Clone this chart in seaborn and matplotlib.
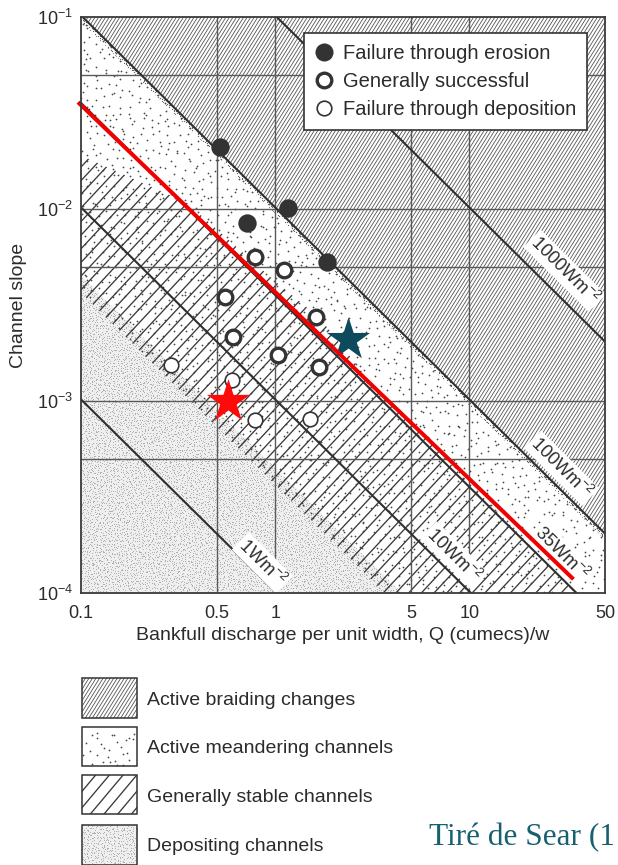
import numpy as np
import pandas as pd
import matplotlib
matplotlib.use("Agg")
import matplotlib.pyplot as plt
import matplotlib.transforms as mtransforms
from matplotlib.collections import LineCollection
from matplotlib.patches import Polygon, Rectangle
from matplotlib.lines import Line2D
from matplotlib.ticker import NullLocator
import seaborn as sns

# ---------------------------------------------------------------- data
erosion_q = [0.52, 0.72, 1.17, 1.84]
erosion_s = [0.021, 0.0085, 0.0101, 0.0053]
success_q = [0.79, 1.11, 0.55, 0.61, 1.04, 1.62, 1.68]
success_s = [0.0056, 0.0048, 0.0035, 0.00215, 0.00174, 0.00274, 0.0015]
deposition_q = [0.29, 0.60, 0.79, 1.52]
deposition_s = [0.00154, 0.00129, 0.00080, 0.00081]
outcome_labels = ["Failure through erosion", "Generally successful",
                  "Failure through deposition"]

site_names = ["site 1", "site 2"]
site_q = [0.575, 2.39]
site_s = [0.00099, 0.00208]
site_colors = ["#ff0a0a", "#0c4a5c"]

threshold_q = [0.0965, 34.4]
threshold_s = [0.036, 0.000118]

power_lines = [1, 10, 35, 100, 1000]          # W m^-2
power_label_q = [0.86, 8.3, 29.9, 29.9, 31.0]
power_label_lift = [1.21, 1.28, 1.35, 1.31, 1.45]

x_ticks = [0.1, 0.5, 1, 5, 10, 50]
x_ticklabels = ["0.1", "0.5", "1", "5", "10", "50"]
y_ticks = [1e-4, 1e-3, 1e-2, 1e-1]
x_grid = [0.5, 1, 5, 10]
y_grid = [5e-4, 1e-3, 5e-3, 1e-2, 5e-2]

# zone boundaries (unit stream power, W m^-2) and the stable-zone upper edge
braid_floor_w = 100
meander_floor_w = 3.6
deposit_top_w = 4.4
band_floor_w = 93
stable_top_q = [0.1, 0.35, 1.0, 1.7, 3.0]
stable_top_s = [0.019, 0.0108, 0.0042, 0.0027, 0.0013]
stable_edge_w = 35

zone_labels = ["Active braiding changes", "Active meandering channels",
               "Generally stable channels", "Depositing channels"]
source_note = "Tiré de Sear (1"

RHO_G = 9810.0
Q_MIN, Q_MAX = 0.1, 50
S_MIN, S_MAX = 1e-4, 1e-1


def slope_at(power, q):
    return power / (RHO_G * np.asarray(q, dtype=float))


def q_at(power, s):
    return power / (RHO_G * s)


# ---------------------------------------------------------------- style
sns.set_theme(style="white")
plt.rcParams["font.family"] = ["Liberation Sans", "DejaVu Sans"]
plt.rcParams["mathtext.fontset"] = "custom"
plt.rcParams["mathtext.rm"] = "Liberation Sans"
plt.rcParams["mathtext.it"] = "Liberation Sans:italic"
plt.rcParams["mathtext.bf"] = "Liberation Sans:bold"
INK = "#2b2b2b"

W_PX, H_PX = 618, 865
fig = plt.figure(figsize=(W_PX / 100, H_PX / 100), dpi=100)
fig.patch.set_facecolor("white")
AX_BOX = (81, 17, 605, 593)
ax = fig.add_axes([AX_BOX[0] / W_PX, 1 - AX_BOX[3] / H_PX,
                   (AX_BOX[2] - AX_BOX[0]) / W_PX,
                   (AX_BOX[3] - AX_BOX[1]) / H_PX])
ax.set_xscale("log")
ax.set_yscale("log")
ax.set_xlim(Q_MIN, Q_MAX)
ax.set_ylim(S_MIN, S_MAX)

# image-pixel coordinates (origin top-left) for the fill textures
PX = mtransforms.Affine2D().scale(1 / W_PX, -1 / H_PX).translate(0, 1) + fig.transFigure


def _hash(i, j, k):
    v = np.sin(i * 12.9898 + j * 78.233 + k * 37.719) * 43758.5453
    return v - np.floor(v)


def hatch(target, clip, box, spacing, angle, lw, color, z):
    x0, y0, x1, y1 = box
    a = np.radians(angle)
    d = np.array([np.cos(a), -np.sin(a)])
    n = np.array([np.sin(a), np.cos(a)])
    corners = np.array([[x0, y0], [x1, y0], [x0, y1], [x1, y1]], dtype=float)
    cn, cd = corners @ n, corners @ d
    segs = [[c * n + cd.min() * d, c * n + cd.max() * d]
            for c in np.arange(cn.min(), cn.max() + spacing, spacing)]
    lc = LineCollection(segs, colors=color, linewidths=lw, transform=PX, zorder=z)
    target.add_collection(lc, autolim=False)
    lc.set_clip_path(clip)


def stipple(target, clip, box, spacing, size, color, z, key):
    x0, y0, x1, y1 = box
    xs = np.arange(x0 - spacing, x1 + spacing, spacing)
    ys = np.arange(y0 - spacing, y1 + spacing, spacing * 0.87)
    I, J = np.meshgrid(np.arange(len(xs)), np.arange(len(ys)))
    X = xs[I] + (J % 2) * spacing / 2 + (_hash(I, J, key) - 0.5) * spacing * 0.9
    Y = ys[J] + (_hash(J, I, key + 1) - 0.5) * spacing * 0.9
    sc = target.scatter(X.ravel(), Y.ravel(), s=size, c=color, linewidths=0,
                        transform=PX, zorder=z)
    sc.set_clip_path(clip)


def region(verts, target):
    return Polygon(verts, closed=True, transform=target.transData)


# ---------------------------------------------------------------- zones
q_braid_top = q_at(braid_floor_w, S_MAX)
braid_poly = [(q_braid_top, S_MAX), (Q_MAX, S_MAX),
              (Q_MAX, float(slope_at(braid_floor_w, Q_MAX)))]
meander_poly = [(Q_MIN, float(slope_at(meander_floor_w, Q_MIN))), (Q_MIN, S_MAX),
                (q_braid_top, S_MAX), (Q_MAX, float(slope_at(braid_floor_w, Q_MAX))),
                (Q_MAX, S_MIN), (q_at(meander_floor_w, S_MIN), S_MIN)]
band_poly = [(Q_MIN, S_MAX), (q_braid_top, S_MAX),
             (Q_MAX, float(slope_at(braid_floor_w, Q_MAX))),
             (Q_MAX, float(slope_at(band_floor_w, Q_MAX))),
             (Q_MIN, float(slope_at(band_floor_w, Q_MIN)))]
stable_poly = (list(zip(stable_top_q, stable_top_s)) +
               [(q_at(stable_edge_w, S_MIN), S_MIN),
                (q_at(meander_floor_w, S_MIN), S_MIN),
                (Q_MIN, float(slope_at(meander_floor_w, Q_MIN)))])
deposit_poly = [(Q_MIN, S_MIN), (Q_MIN, float(slope_at(deposit_top_w, Q_MIN))),
                (q_at(deposit_top_w, S_MIN), S_MIN)]

DEPOSIT_FILL, DEPOSIT_DOT = "#efefef", "#a6a6a6"
ax.add_patch(Polygon(deposit_poly, closed=True, fc=DEPOSIT_FILL, ec="none", zorder=0.5))
stipple(ax, region(deposit_poly, ax), AX_BOX, 2.6, 0.4, DEPOSIT_DOT, 0.6, 1)
stipple(ax, region(meander_poly, ax), AX_BOX, 8.5, 1.6, "#484848", 0.8, 5)
hatch(ax, region(stable_poly, ax), AX_BOX, 9.3, 47, 0.95, "#3a3a3a", 1.0)
hatch(ax, region(braid_poly, ax), AX_BOX, 3.0, 58, 0.6, "#555555", 1.0)
stipple(ax, region(band_poly, ax), AX_BOX, 2.5, 0.8, "#5a5a5a", 1.1, 9)

# ---------------------------------------------------------------- grid and stream-power lines
for gx in x_grid:
    ax.axvline(gx, color="#5a5a5a", lw=1.0, zorder=2)
for gy in y_grid:
    ax.axhline(gy, color="#5a5a5a", lw=1.0, zorder=2)

q_span = np.array([Q_MIN, Q_MAX])
for p, lq, lift in zip(power_lines, power_label_q, power_label_lift):
    ax.plot(q_span, slope_at(p, q_span), color="#2f2f2f", lw=1.5, zorder=3)
    ax.text(lq, float(slope_at(p, lq)) * lift, f"{p}Wm$^{{-2}}$",
            rotation=-44.8, rotation_mode="anchor", ha="center", va="center",
            fontsize=13, color=INK, zorder=7,
            bbox=dict(fc="white", ec="none", pad=1.5))

# ---------------------------------------------------------------- observations
obs = pd.DataFrame({
    "q": erosion_q + success_q + deposition_q,
    "S": erosion_s + success_s + deposition_s,
    "outcome": ([outcome_labels[0]] * len(erosion_q) +
                [outcome_labels[1]] * len(success_q) +
                [outcome_labels[2]] * len(deposition_q)),
})
marker_styles = {
    outcome_labels[0]: dict(s=175, color="#333333", edgecolor="#333333", linewidth=0),
    outcome_labels[1]: dict(s=110, color="white", edgecolor="#333333", linewidth=2.4),
    outcome_labels[2]: dict(s=110, color="white", edgecolor="#333333", linewidth=1.2),
}
for label in outcome_labels:
    sns.scatterplot(data=obs[obs["outcome"] == label], x="q", y="S", marker="o",
                    zorder=8, legend=False, ax=ax, **marker_styles[label])

sites = pd.DataFrame({"q": site_q, "S": site_s, "site": site_names})
sns.scatterplot(data=sites, x="q", y="S", hue="site", palette=site_colors,
                marker="*", s=1060, linewidth=0, legend=False, zorder=8, ax=ax)

ax.plot(threshold_q, threshold_s, color="#f00000", lw=2.9, solid_capstyle="butt",
        clip_on=False, zorder=9)

# ---------------------------------------------------------------- axes cosmetics
ax.set_xlim(Q_MIN, Q_MAX)
ax.set_ylim(S_MIN, S_MAX)
ax.set_xticks(x_ticks, x_ticklabels)
ax.set_yticks(y_ticks)
ax.xaxis.set_minor_locator(NullLocator())
ax.yaxis.set_minor_locator(NullLocator())
ax.tick_params(axis="x", length=0, labelsize=13, colors=INK, pad=8.4)
ax.tick_params(axis="y", length=0, labelsize=13, colors=INK, pad=5.8)
ax.set_xlabel("Bankfull discharge per unit width, Q (cumecs)/w", fontsize=14,
              color=INK, labelpad=4)
ax.set_ylabel("Channel slope", fontsize=14, color=INK)
ax.yaxis.set_label_coords(-0.103, 0.5)
for sp in ax.spines.values():
    sp.set_color("#3a3a3a")
    sp.set_linewidth(1.3)
    sp.set_zorder(10)
ax.set_facecolor("white")

handles = [
    Line2D([], [], ls="none", marker="o", ms=13, mfc="#333333", mec="#333333", mew=0),
    Line2D([], [], ls="none", marker="o", ms=10.5, mfc="white", mec="#333333", mew=2.4),
    Line2D([], [], ls="none", marker="o", ms=10.5, mfc="white", mec="#333333", mew=1.2),
]
leg = ax.legend(handles, outcome_labels, loc="upper right",
                bbox_to_anchor=(0.9656, 0.9722), borderaxespad=0, fontsize=14.5,
                frameon=True, fancybox=False, framealpha=1, edgecolor="#333333",
                handlelength=0.8, handletextpad=0.55, labelspacing=0.45,
                borderpad=0.55, labelcolor=INK)
leg.get_frame().set_linewidth(1.2)
leg.set_zorder(11)

# ---------------------------------------------------------------- zone key and source
lax = fig.add_axes([0, 0, 1, 1])
lax.set_xlim(0, W_PX)
lax.set_ylim(H_PX, 0)
lax.axis("off")
lax.patch.set_visible(False)

key_x, key_w = 82, 55
key_tops = [678, 727, 775, 825]
key_heights = [40, 39, 39, 40]
key_baselines = [705, 753, 802, 851]
for i, (top, h, base, text) in enumerate(zip(key_tops, key_heights, key_baselines,
                                             zone_labels)):
    box = (key_x, top, key_x + key_w, top + h)
    clip = Rectangle((key_x, top), key_w, h, transform=lax.transData)
    if i == 0:
        hatch(lax, clip, box, 3.0, 58, 0.6, "#555555", 1)
    elif i == 1:
        stipple(lax, clip, box, 9.0, 1.6, "#484848", 1, 21)
    elif i == 2:
        hatch(lax, clip, box, 10.5, 50, 0.95, "#3a3a3a", 1)
    else:
        lax.add_patch(Rectangle((key_x, top), key_w, h, fc=DEPOSIT_FILL, ec="none",
                                zorder=0.5))
        stipple(lax, clip, box, 2.6, 0.4, DEPOSIT_DOT, 1, 31)
    lax.add_patch(Rectangle((key_x, top), key_w, h, fc="none", ec="#333333",
                            lw=1.1, zorder=3, clip_on=False))
    lax.text(147, base, text, fontsize=14, color=INK, ha="left", va="baseline")

lax.text(429, 845, source_note, fontsize=22.5, color="#16606f",
         family=["Liberation Serif", "DejaVu Serif"], ha="left", va="baseline")

fig.savefig("out.png", dpi=100, facecolor="white")
